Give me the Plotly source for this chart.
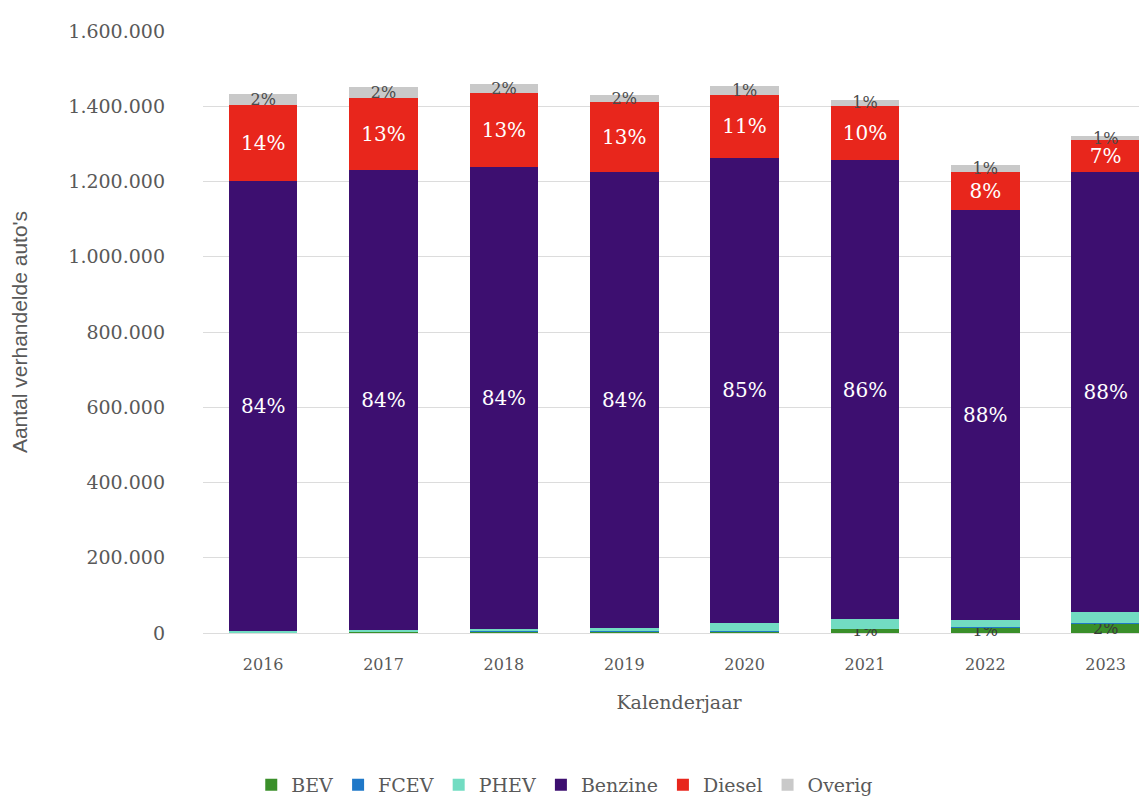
import plotly.graph_objects as go

years = ["2016", "2017", "2018", "2019", "2020", "2021", "2022", "2023"]

bev = [2000, 3000, 4000, 5000, 5000, 11000, 15000, 26000]
fcev = [20, 20, 20, 30, 30, 40, 40, 50]
phev = [4000, 5000, 6000, 8000, 22000, 25000, 19000, 30000]
benzine = [1196000, 1222000, 1228000, 1212000, 1236000, 1222000, 1090000, 1168000]
diesel = [202000, 193000, 196000, 185000, 167000, 143000, 101000, 85000]
overig = [29000, 27000, 24000, 21000, 24000, 16000, 20000, 13000]

bev_labels = ["", "", "", "", "", "1%", "1%", "2%"]
benzine_labels = ["84%", "84%", "84%", "84%", "85%", "86%", "88%", "88%"]
diesel_labels = ["14%", "13%", "13%", "13%", "11%", "10%", "8%", "7%"]
overig_labels = ["2%", "2%", "2%", "2%", "1%", "1%", "1%", "1%"]

series = [
    ("BEV", bev, "#3a8f2a", bev_labels, "#3a3a3a", 16),
    ("FCEV", fcev, "#1f78c8", None, None, 16),
    ("PHEV", phev, "#72dcc2", None, None, 16),
    ("Benzine", benzine, "#3d0f70", benzine_labels, "white", 20),
    ("Diesel", diesel, "#e8261c", diesel_labels, "white", 20),
    ("Overig", overig, "#c9c9c9", overig_labels, "#4a4a4a", 16),
]

SERIF = "DejaVu Serif, Liberation Serif, serif"

fig = go.Figure()
for name, vals, color, labels, tcolor, tsize in series:
    kw = {}
    if labels is not None:
        kw = dict(
            text=labels,
            textposition="inside",
            insidetextanchor="middle",
            textangle=0,
            constraintext="none",
            textfont=dict(color=tcolor, size=tsize, family=SERIF),
        )
    fig.add_trace(go.Bar(
        name=name, x=years, y=vals, marker=dict(color=color, line=dict(width=0)),
        cliponaxis=False, **kw
    ))

fig.update_layout(
    barmode="stack",
    bargap=0.43,
    width=1147, height=796,
    margin=dict(l=195, r=0, t=23, b=169),
    plot_bgcolor="white", paper_bgcolor="white",
    separators=",.",
    font=dict(family=SERIF, color="#595959"),
    legend=dict(
        orientation="h", x=0.38, xanchor="center", y=-0.253, yanchor="middle",
        font=dict(size=19, color="#595959", family=SERIF),
        itemwidth=30, traceorder="normal",
    ),
    showlegend=True,
)
fig.update_xaxes(
    type="category", range=[-0.5, 7.41],
    tickfont=dict(size=16, color="#595959", family=SERIF),
    ticks="", showline=False,
    ticklabelstandoff=20,
    title=dict(text="Kalenderjaar", font=dict(size=19, color="#595959", family=SERIF), standoff=22),
)
fig.update_yaxes(
    range=[0, 1600000], dtick=200000, tickformat=",d",
    showgrid=True, gridcolor="#dcdcdc", gridwidth=1,
    zeroline=True, zerolinecolor="#dcdcdc", zerolinewidth=1,
    tickfont=dict(size=19, color="#595959", family=SERIF),
    ticklabelstandoff=37,
    title=dict(text="Aantal verhandelde auto's",
               font=dict(size=21, color="#595959", family="Liberation Sans Narrow, Liberation Sans, sans-serif"),
               standoff=35),
)

fig.write_html("out.html")
